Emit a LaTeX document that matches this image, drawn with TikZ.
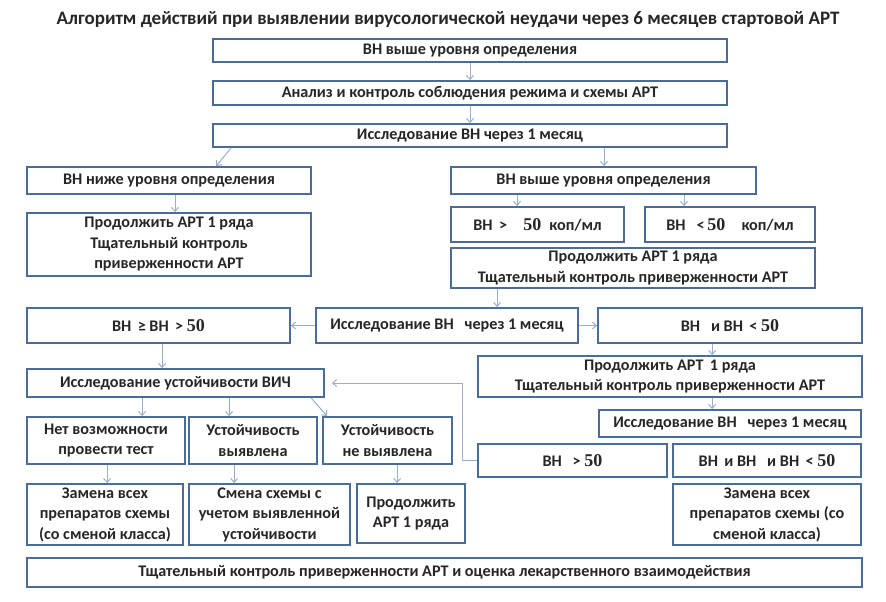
\documentclass[tikz,border=0pt]{standalone}
\usepackage{fontspec}
\setmainfont{Carlito}
\newfontfamily\numfont{Liberation Serif}
\usetikzlibrary{arrows.meta,calc}
\definecolor{boxc}{HTML}{4A6C98}
\definecolor{arrc}{HTML}{97AFCD}
\definecolor{txtc}{HTML}{262626}
\newcommand{\fn}[1]{{\numfont\bfseries\fontsize{18}{20}\selectfont #1}}
\newcommand{\bx}[6]{\node[box, minimum width={#4-#2}, minimum height={#5-#3}] (#1) at ({(#2+#4)/2},{(#3+#5)/2}) {#6};}
\tikzset{
  box/.style={draw=boxc, line width=1.8pt, fill=white, inner sep=0pt, align=center,
    text=txtc, font=\bfseries\fontsize{16.2}{20.5}\selectfont},
  arr/.style={draw=arrc, line width=1pt, -{Straight Barb[length=4pt,width=7pt]}},
  ttl/.style={text=txtc, font=\bfseries\fontsize{19}{22}\selectfont, inner sep=0pt}
}
\begin{document}
\begin{tikzpicture}[x=1pt,y=-1pt]
\useasboundingbox[fill=white] (0,0) rectangle (886,602);
\node[ttl] (title) at (448,20) {Алгоритм действий при выявлении вирусологической неудачи через 6 месяцев стартовой АРТ};
\bx{B1}{213}{39}{727}{62}{ВН выше уровня определения}
\bx{B2}{213}{81}{727}{105}{Анализ и контроль соблюдения режима и схемы АРТ}
\bx{B3}{213}{124}{727}{147}{Исследование ВН через 1 месяц}
\bx{L1}{27}{167}{311}{194}{ВН ниже уровня определения}
\bx{L2}{27}{213}{311}{276}{Продолжить АРТ 1 ряда\\Тщательный контроль\\приверженности АРТ}
\bx{R1}{451}{167}{756}{194}{ВН выше уровня определения}
\bx{R2a}{451}{207}{624}{242}{ВН \,>\quad\fn{50}\; коп/мл}
\bx{R2b}{645}{207}{815}{242}{ВН \;\,<\,\fn{50}\quad коп/мл}
\bx{R3}{451}{248}{815}{288}{Продолжить АРТ 1 ряда\\Тщательный контроль приверженности АРТ}
\bx{ML}{27}{308}{290}{343}{ВН \,≥ ВН \,> \fn{50}}
\bx{M}{316}{308}{578}{343}{Исследование ВН \;\,через 1 месяц}
\bx{MR}{598}{308}{862}{343}{ВН \;\,и ВН \,< \fn{50}}
\bx{V}{27}{369}{324}{397}{Исследование устойчивости ВИЧ}
\bx{R4}{478}{356}{862}{397}{Продолжить АРТ \,1 ряда\\Тщательный контроль приверженности АРТ}
\bx{R5}{599}{410}{861}{437}{Исследование ВН \;\,через 1 месяц}
\bx{T1}{27}{417}{185}{464}{Нет возможности\\провести тест}
\bx{T2}{189}{417}{317}{464}{Устойчивость\\выявлена}
\bx{T3}{323}{417}{452}{464}{Устойчивость\\не выявлена}
\bx{RB1}{478}{444}{667}{477}{ВН \;\,> \fn{50}}
\bx{RB2}{673}{444}{861}{477}{ВН \,и ВН \;\,и ВН \,< \fn{50}}
\bx{U1}{27}{484}{183}{545}{Замена всех\\препаратов схемы\\(со сменой класса)}
\bx{U2}{189}{484}{350}{545}{Смена схемы с\\учетом выявленной\\устойчивости}
\bx{U3}{357}{484}{465}{543}{Продолжить\\АРТ 1 ряда}
\bx{RB3}{673}{484}{861}{545}{Замена всех\\препаратов схемы (со\\сменой класса)}
\bx{BT}{27}{558}{862}{587}{Тщательный контроль приверженности АРТ и оценка лекарственного взаимодействия}
% connectors
\draw[arr] (B1.south) -- (B2.north);
\draw[arr] (B2.south) -- (B3.north);
\draw[arr] ([xshift=19pt]B3.south west) -- ([xshift=190pt]L1.north west);
\draw[arr] ([xshift=392pt]B3.south west) -- ([xshift=154pt]R1.north west);
\draw[arr] ([xshift=6pt]L1.south) -- ([xshift=6pt]L2.north);
\draw[arr] ([xshift=67pt]R1.south west) -- ([xshift=67pt]R2a.north west);
\draw[arr] ([xshift=234pt]R1.south west) -- ([xshift=40pt]R2b.north west);
\draw[arr] ([xshift=47pt]R3.south west) -- ([xshift=182pt]M.north west);
\draw[arr] (M.west) -- (ML.east);
\draw[arr] (M.east) -- (MR.west);
\draw[arr] ([xshift=136pt]ML.south west) -- ([xshift=136pt]V.north west);
\draw[arr] ([xshift=116pt]V.south west) -- ([xshift=116pt]T1.north west);
\draw[arr] ([xshift=203pt]V.south west) -- ([xshift=41pt]T2.north west);
\draw[arr] ([xshift=285pt]V.south west) -- ([xshift=5pt]T3.north west);
\draw[arr] ([xshift=81pt]T1.south west) -- ([xshift=81pt]U1.north west);
\draw[arr] ([xshift=46pt]T2.south west) -- ([xshift=46pt]U2.north west);
\draw[arr] ([xshift=75pt]T3.south west) -- ([xshift=41pt]U3.north west);
\draw[arr] ([xshift=115pt]MR.south west) -- ([xshift=235pt]R4.north west);
\draw[arr] ([xshift=235pt]R4.south west) -- ([xshift=114pt]R5.north west);
\draw[arr, shorten >=7pt] (RB1.west) -- ++(-15,0) |- (V.east);
\end{tikzpicture}
\end{document}
